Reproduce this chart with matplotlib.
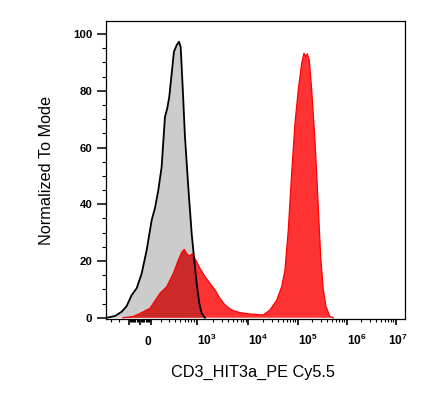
import numpy as np
import matplotlib
matplotlib.use("Agg")
import matplotlib.pyplot as plt
from matplotlib.transforms import ScaledTranslation

plt.rcParams['font.family'] = ['Liberation Sans', 'DejaVu Sans']
plt.rcParams['mathtext.fontset'] = 'custom'
plt.rcParams['mathtext.rm'] = 'Liberation Sans'
plt.rcParams['mathtext.bf'] = 'Liberation Sans:bold'

# unstained control (grey, black outline)
ctrl_x = [-370, -250, -173, -122, -74, -29, 15, 60, 106, 138, 173, 210, 250,
          280, 308, 344, 381, 429, 474, 509, 554, 610, 701, 809, 903, 1000,
          1117, 1237, 1425]
ctrl_y = [0, 0.6, 2.1, 4.1, 8.0, 10.4, 15.6, 23.9, 34.4, 38.6, 45.0, 53.2, 70.8,
          73.8, 77.9, 86.1, 93.8, 96.1, 97.3, 95.5, 81.4, 63.8, 46.2, 29.7, 20.3,
          12.1, 5.1, 1.6, 0]

# CD3 stained sample (red)
cd3_x = [-159, -62, 0, 90, 191, 272, 370, 460, 538, 593, 664, 731, 830, 1000,
         1150, 1425, 1771, 2205, 2753, 3443, 4660, 6806, 10790, 20000, 27300,
         37400, 47200, 55100, 64300, 75400, 88000, 102800, 120600, 134300,
         145400, 156800, 172200, 192800, 225000, 262800, 294100, 332300,
         377200, 455100, 531400]
cd3_y = [0, 0.4, 1.5, 3.3, 8.6, 10.9, 15.6, 20.3, 23.2, 24.1, 22.5, 21.7, 22.5,
         19.7, 17.4, 14.5, 12.1, 9.8, 6.8, 4.5, 2.7, 1.8, 1.3, 1.0, 2.7, 6.2,
         10.9, 16.8, 30.9, 50.9, 68.5, 80.3, 89.7, 93.2, 92.0, 93.0, 90.8, 80.3,
         62.6, 39.1, 21.5, 9.8, 3.9, 0.4, 0]

xticks = [-100, 0, 100, 1e3, 1e4, 1e5, 1e6, 1e7]
xticklabels = ['', r'$\mathbf{0}$', '', r'$\mathbf{10^{3}}$', r'$\mathbf{10^{4}}$',
               r'$\mathbf{10^{5}}$', r'$\mathbf{10^{6}}$', r'$\mathbf{10^{7}}$']
yticks = [0, 20, 40, 60, 80, 100]

# biexponential (logicle-like) display transform
P = 2.12
K = 60.3


def biex_inv(z):
    z = np.asarray(z, dtype=float)
    a = np.abs(z)
    return np.sign(z) * K * (np.exp(a) - P * P * np.exp(-a / P) + P * P - 1)


zgrid = np.linspace(-4, 14, 40001)
xgrid = biex_inv(zgrid)


def biex(x):
    return np.interp(np.asarray(x, dtype=float), xgrid, zgrid)


fig = plt.figure(figsize=(4.45, 4.01), dpi=100)
ax = fig.add_axes([0.2375, 0.2037, 0.6726, 0.7446])
ax.set_xscale('function', functions=(biex, biex_inv))
ax.set_xlim(-386, 1.545e7)
ax.set_ylim(-0.56, 104.7)

grey = ax.fill(ctrl_x, ctrl_y, color='#cccccc', lw=0, zorder=1)[0]
ax.fill(cd3_x, cd3_y, color='#ff3333', lw=0, zorder=2)
dark = ax.fill(cd3_x, cd3_y, color='#cc2929', lw=0, zorder=3)[0]
dark.set_clip_path(grey)
ax.plot(cd3_x, cd3_y, color='#ff0000', lw=0.9, zorder=4)
ax.plot(ctrl_x, ctrl_y, color='black', lw=1.3, zorder=5)

minor = [-300, -200] + [-k * 10 for k in range(1, 10)] + [k * 10 for k in range(1, 10)]
minor += [k * 100 for k in range(2, 10)]
for e in range(3, 7):
    minor += [k * 10 ** e for k in range(2, 10)]
ax.set_xticks(xticks)
ax.set_xticklabels(xticklabels)
ax.set_xticks(minor, minor=True)
ax.set_yticks(yticks)
ax.set_yticklabels([str(v) for v in yticks], fontweight='bold')
ax.set_yticks(np.arange(0, 101, 5), minor=True)

ax.tick_params(axis='y', which='major', length=6.5, width=1.1, pad=3, labelsize=8.2)
ax.tick_params(axis='y', which='minor', length=2.9, width=0.8)
ax.tick_params(axis='x', which='major', length=4.3, width=1.2, pad=14.2, labelsize=8.6)
ax.tick_params(axis='x', which='minor', length=2.2, width=0.8)
for s in ax.spines.values():
    s.set_linewidth(0.9)

shifts = {1: 4.0, 7: -7.4}
for i, lab in enumerate(ax.get_xticklabels()):
    lab.set_ha('left')
    lab.set_va('baseline')
    dx = shifts.get(i, 0)
    if dx:
        lab.set_transform(lab.get_transform() + ScaledTranslation(dx / 100, 0, fig.dpi_scale_trans))

ax.set_xlabel('CD3_HIT3a_PE Cy5.5', fontsize=11.7)
ax.xaxis.set_label_coords(0.492, -0.178)
ax.xaxis.label.set_va('center')
ax.set_ylabel('Normalized To Mode', fontsize=11.7)
ax.yaxis.set_label_coords(-0.197, 0.5)
ax.yaxis.label.set_va('center')

fig.savefig('out.png', dpi=100)
